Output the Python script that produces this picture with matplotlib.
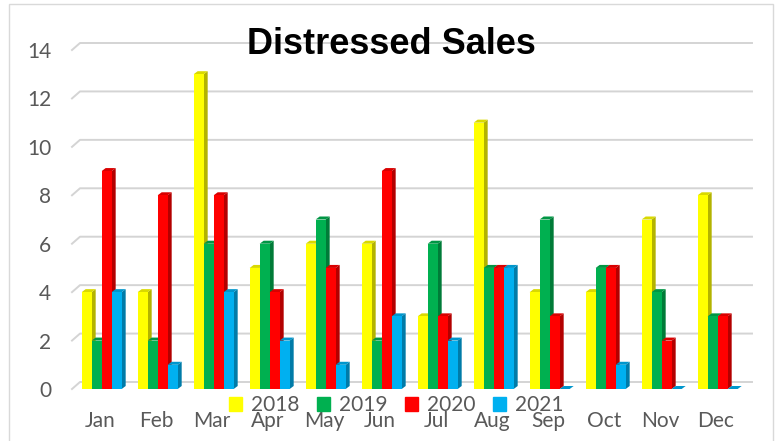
import numpy as np
import matplotlib
matplotlib.use("Agg")
import matplotlib.pyplot as plt
from matplotlib.patches import Polygon, Rectangle
import matplotlib.colors as mcolors

# datos
months = ["Jan", "Feb", "Mar", "Apr", "May", "Jun",
          "Jul", "Aug", "Sep", "Oct", "Nov", "Dec"]
years = ["2018", "2019", "2020", "2021"]
s2018 = [4, 4, 13, 5, 6, 6, 3, 11, 4, 4, 7, 8]
s2019 = [2, 2, 6, 6, 7, 2, 6, 5, 7, 5, 4, 3]
s2020 = [9, 8, 8, 4, 5, 9, 3, 5, 3, 5, 2, 3]
s2021 = [4, 1, 4, 2, 1, 3, 2, 5, 0, 1, 0, 0]
y_ticks = [0, 2, 4, 6, 8, 10, 12, 14]

series = [s2018, s2019, s2020, s2021]
colors = ["#FFFF00", "#00B050", "#FF0000", "#00B0F0"]

W, H = 778, 441
fig = plt.figure(figsize=(W / 100, H / 100), dpi=100)
ax = fig.add_axes([72 / W, (H - 389) / H, (744 - 72) / W, (389 - 50) / H])
ax.set_xlim(-0.5, 11.5)
ax.set_ylim(0, 14)

# escala en pixeles -> unidades de datos
px_x = 1 / 56.0
px_y = 14 / 339.0

# rejilla en el plano de fondo (efecto 3D)
gdx, gdy = 8 * px_x, 7 * px_y
for v in y_ticks:
    ax.plot([-0.5, -0.5 + gdx, 11.5 + gdx], [v, v + gdy, v + gdy],
            color="#D4D4D4", lw=1.4, zorder=0, clip_on=False)

# barras con cara lateral y superior
bw = 10 * px_x
dx, dy = 4 * px_x, 3 * px_y
x = np.arange(len(months))
for k, (vals, c) in enumerate(zip(series, colors)):
    rgb = np.array(mcolors.to_rgb(c))
    side = tuple(rgb * 0.7)
    top = tuple(rgb * 0.85)
    left = x + (k - 2) * bw + 0.03
    for xi, v in zip(left, vals):
        ax.add_patch(Polygon([(xi + bw, 0), (xi + bw + dx, dy),
                              (xi + bw + dx, v + dy), (xi + bw, v)],
                             closed=True, facecolor=side, edgecolor="none",
                             zorder=2 + k))
        ax.add_patch(Polygon([(xi, v), (xi + dx, v + dy),
                              (xi + bw + dx, v + dy), (xi + bw, v)],
                             closed=True, facecolor=top, edgecolor="none",
                             zorder=2 + k))
    ax.bar(left, vals, width=bw, align="edge", color=c, zorder=2 + k,
           label=years[k], linewidth=0)

for sp in ax.spines.values():
    sp.set_visible(False)

ax.set_xticks(x)
ax.set_xticklabels(months)
ax.set_yticks(y_ticks)
ax.tick_params(axis="both", length=0, labelsize=15, labelcolor="#595959")
ax.tick_params(axis="x", pad=16)
ax.tick_params(axis="y", pad=15)
for lab in ax.get_xticklabels() + ax.get_yticklabels():
    lab.set_family("Lato")

handles = [Rectangle((0, 0), 1, 1, color=c) for c in colors]
fig.legend(handles, years, loc="center", bbox_to_anchor=(396 / W, 1 - 405 / H),
           ncol=4, frameon=False, handlelength=0.65, handleheight=0.65,
           handletextpad=0.4, columnspacing=0.85,
           prop={"family": "Lato", "size": 15}, labelcolor="#595959")

fig.text(391 / W, 1 - 44 / H, "Distressed Sales", ha="center", va="center",
         fontsize=26, fontweight="bold", family="Liberation Sans", color="black")

# marco exterior del grafico
fig.patches.append(Rectangle((8.5 / W, -0.05), (773 - 8.5) / W, 1.05 - 3.5 / H,
                             transform=fig.transFigure, fill=False,
                             edgecolor="#D9D9D9", lw=1))

fig.savefig("out.png", dpi=100)
